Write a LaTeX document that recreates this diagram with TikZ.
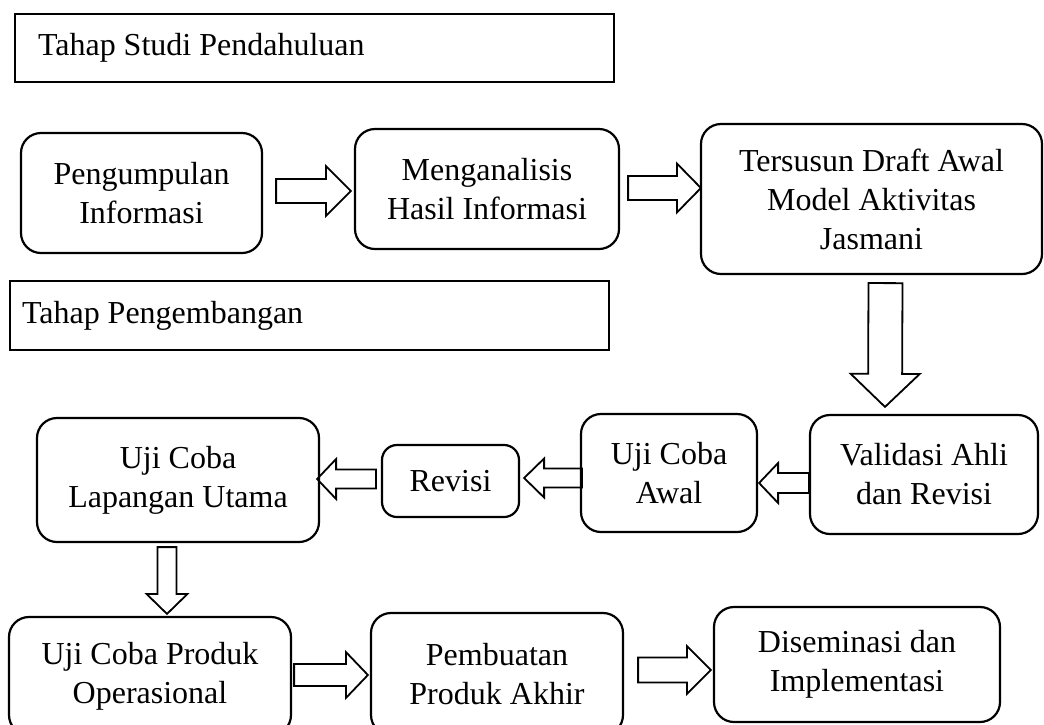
\documentclass[tikz,border=0pt]{standalone}
\usepackage{fontspec}
\setmainfont{Liberation Serif}
\usepackage{tikz}
\usetikzlibrary{calc}

% hollow block arrow: tail, tip, shaft half width, head half width, head length
\newcommand{\hollowarrow}[5]{%
  \coordinate (hb) at ($(#2)!#5!(#1)$);
  \draw[arrowline] ($(#1)!#3!90:(#2)$) -- ($(hb)!#3!-90:(#1)$) -- ($(hb)!#4!-90:(#1)$) -- (#2)
    -- ($(hb)!#4!90:(#1)$) -- ($(hb)!#3!90:(#1)$) -- ($(#1)!#3!-90:(#2)$) -- cycle;
}

\begin{document}
\begin{tikzpicture}[x=1pt, y=-1pt,
  every node/.style={font=\fontsize{32}{39}\selectfont},
  stepbox/.style={draw, line width=2.2pt, rounded corners=20pt, align=center, inner sep=0pt},
  phasebox/.style={draw, line width=2.2pt, align=flush left, minimum height=68pt},
  arrowline/.style={line width=1.8pt, line join=miter}]
  \clip (0,0) rectangle (1044,724);

  % Phase headings
  \node[phasebox, inner xsep=23pt, text width=553pt] (studi) at (314.5,48) {Tahap Studi Pendahuluan};
  \node[phasebox, inner xsep=12pt, text width=575pt, minimum height=69pt] (kembang) at (309.5,315.5) {Tahap Pengembangan};

  % First row
  \node[stepbox, minimum width=241pt, minimum height=120pt] (kumpul) at (141.5,193) {Pengumpulan\\Informasi};
  \node[stepbox, minimum width=264pt, minimum height=120pt] (analisis) at (487,189) {Menganalisis\\Hasil Informasi};
  \node[stepbox, minimum width=341pt, minimum height=150pt] (draft) at (871.5,199) {Tersusun Draft Awal\\Model Aktivitas\\Jasmani};

  % Second row
  \node[stepbox, minimum width=228pt, minimum height=119pt] (validasi) at (924,474.5) {Validasi Ahli\\dan Revisi};
  \node[stepbox, minimum width=176pt, minimum height=118pt] (ujiawal) at (669,473) {Uji Coba\\Awal};
  \node[stepbox, minimum width=137pt, minimum height=72pt, rounded corners=15pt] (revisi) at (450.5,481) {Revisi};
  \node[stepbox, minimum width=282pt, minimum height=124pt] (lapangan) at (178,480) {Uji Coba\\Lapangan Utama};

  % Third row
  \node[stepbox, minimum width=282pt, minimum height=118pt] (operasional) at (150,676) {Uji Coba Produk\\Operasional};
  \node[stepbox, minimum width=252pt, minimum height=122pt] (akhir) at (497,674) {Pembuatan\\Produk Akhir};
  \node[stepbox, minimum width=286pt, minimum height=115pt] (diseminasi) at (857,664.5) {Diseminasi dan\\Implementasi};

  % Arrow ends
  \coordinate (a1s) at ($(kumpul.east)+(13,-2)$);
  \coordinate (a1t) at ($(analisis.west)+(-3,2)$);
  \coordinate (a2s) at ($(analisis.east)+(8,-1)$);
  \coordinate (a2t) at ($(draft.west)+(1,-11)$);
  \coordinate (a3s) at ($(draft.south)+(14,8)$);
  \coordinate (a3t) at ($(validasi.north)+(-39,-7)$);
  \coordinate (a4s) at ($(validasi.west)+(0,8.5)$);
  \coordinate (a4t) at ($(ujiawal.east)+(1,10)$);
  \coordinate (a5s) at ($(ujiawal.west)+(2,5)$);
  \coordinate (a5t) at ($(revisi.east)+(4,-3)$);
  \coordinate (a6s) at ($(revisi.west)+(-5,-2)$);
  \coordinate (a6t) at ($(lapangan.east)+(-3,-1)$);
  \coordinate (a7s) at ($(lapangan.south)+(-11,4)$);
  \coordinate (a7t) at ($(operasional.north)+(17,-2)$);
  \coordinate (a8s) at ($(operasional.east)+(2,-1)$);
  \coordinate (a8t) at ($(akhir.west)+(-2,1)$);
  \coordinate (a9s) at ($(akhir.east)+(14,-4)$);
  \coordinate (a9t) at ($(diseminasi.west)+(-2,5.5)$);

  % Block arrows
  \hollowarrow{a1s}{a1t}{12pt}{25pt}{25pt}
  \hollowarrow{a2s}{a2t}{12pt}{24.5pt}{24pt}
  \hollowarrow{a3s}{a3t}{17pt}{34.5pt}{33pt}
  \hollowarrow{a4s}{a4t}{10pt}{20pt}{19pt}
  \hollowarrow{a5s}{a5t}{9.5pt}{19.5pt}{20pt}
  \hollowarrow{a6s}{a6t}{9.5pt}{20pt}{19pt}
  \hollowarrow{a7s}{a7t}{9.5pt}{20.5pt}{20pt}
  \hollowarrow{a8s}{a8t}{11pt}{23pt}{22pt}
  \hollowarrow{a9s}{a9t}{12.5pt}{24pt}{24pt}
\end{tikzpicture}
\end{document}
